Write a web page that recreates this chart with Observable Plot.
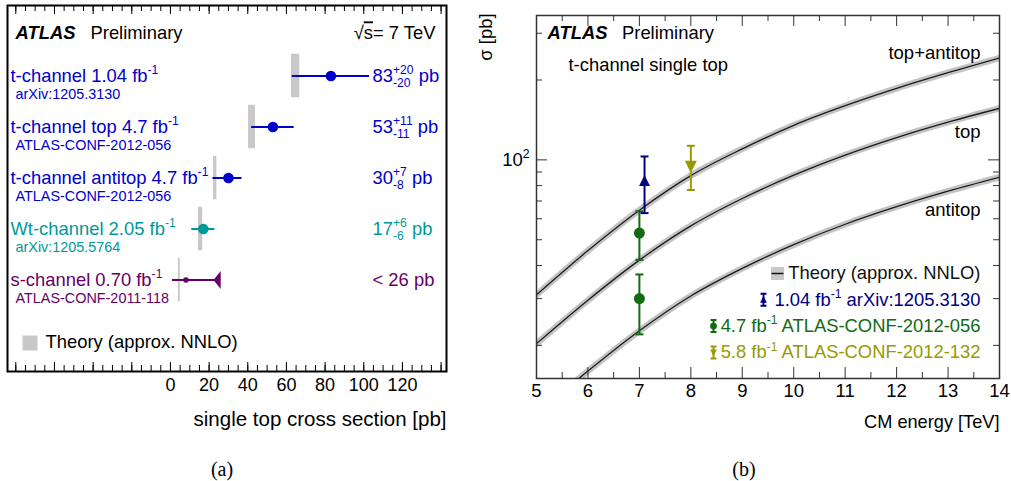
<!DOCTYPE html>
<html>
<head>
<meta charset="utf-8">
<script src="https://cdn.jsdelivr.net/npm/d3@7"></script>
<script src="https://cdn.jsdelivr.net/npm/@observablehq/plot@0.6"></script>
<style>
  body { margin: 0; background: #fff; font-family: "Liberation Sans", Arial, sans-serif; }
  #wrap { position: relative; width: 1011px; height: 481px; overflow: hidden; }
  #pa { position: absolute; left: 0; top: 0; }
  #pb { position: absolute; left: 470px; top: 0; }
  .cap { position: absolute; top: 456px; width: 60px; text-align: center; font-family: "Liberation Serif", "Times New Roman", serif; font-size: 20px; line-height: 26px; color: #000; }
  svg text { white-space: pre; }
</style>
</head>
<body>
<div id="wrap">
  <div id="pa"></div>
  <div id="pb"></div>
  <div class="cap" style="left:192px">(a)</div>
  <div class="cap" style="left:714px">(b)</div>
</div>
<script>
// ================= Panel (a) data =================
const rowLabels = ["t-channel 1.04 fb^{-1}", "t-channel top 4.7 fb^{-1}", "t-channel antitop 4.7 fb^{-1}", "Wt-channel 2.05 fb^{-1}", "s-channel 0.70 fb^{-1}"];
const rowRefs = ["arXiv:1205.3130", "ATLAS-CONF-2012-056", "ATLAS-CONF-2012-056", "arXiv:1205.5764", "ATLAS-CONF-2011-118"];
const rowValue = [83, 53, 30, 17, 8];
const rowLow = [63, 42, 22, 11, 1];
const rowHigh = [103, 64, 37, 23, 26];
const rowIsLimit = [false, false, false, false, true];
const rowResult = ["83^{+20}_{-20} pb", "53^{+11}_{-11} pb", "30^{+7}_{-8} pb", "17^{+6}_{-6} pb", "< 26 pb"];
const theoryLow = [62.6, 40.4, 22.3, 14.5, 4.1];
const theoryHigh = [66.9, 44.0, 24.0, 16.7, 5.1];
const axisATicks = [0, 20, 40, 60, 80, 100, 120];

// ================= Panel (b) data =================
const energy = [5, 6, 7, 8, 9, 10, 11, 12, 13, 14];
const sigmaTotal = [31.0, 45.5, 64.6, 87.2, 110, 135, 160, 186, 213, 242];
const sigmaTop = [20.3, 29.6, 41.9, 56.4, 71.5, 87.6, 104.3, 121.4, 138.8, 156.4];
const sigmaAntitop = [11.0, 16.0, 22.7, 30.7, 39.0, 47.9, 57.2, 66.6, 76.2, 86.0];
const curveLabels = ["top+antitop", "top", "antitop"];
const measEnergy = [7.1, 7.0, 7.0, 8.0];
const measValue = [83, 53, 30, 95];
const measLow = [63, 42, 22, 77];
const measHigh = [103, 64, 37, 113];
const measDataset = [0, 1, 1, 2];
const datasetLabels = ["1.04 fb^{-1} arXiv:1205.3130", "4.7 fb^{-1} ATLAS-CONF-2012-056", "5.8 fb^{-1} ATLAS-CONF-2012-132"];
const theoryLabel = "Theory (approx. NNLO)";
const axisBXTicks = [5, 6, 7, 8, 9, 10, 11, 12, 13, 14];
const axisBYTicks = [100];

// ================= styles =================
const rowColor = ["#0000cc", "#0000cc", "#0000cc", "#009999", "#660066"];
const datasetColor = ["#000080", "#116b11", "#999900"];
const bandGray = "#c8c8c8";
const FONT = "'Liberation Sans', Arial, Helvetica, sans-serif";

// custom symbols (size = area -> r)
const rOf = size => Math.sqrt(size / Math.PI);
const symTriUp = {draw(c, s) { const r = rOf(s); c.moveTo(0, -1.15 * r); c.lineTo(r, 0.85 * r); c.lineTo(-r, 0.85 * r); c.closePath(); }};
const symTriDown = {draw(c, s) { const r = rOf(s); c.moveTo(0, 1.15 * r); c.lineTo(r, -0.85 * r); c.lineTo(-r, -0.85 * r); c.closePath(); }};
const symLimit = {draw(c, s) { const r = rOf(s); c.moveTo(0, -1.5 * r); c.lineTo(0, 1.5 * r); c.lineTo(-1.2 * r, 0); c.closePath(); }};
const symCap = {draw(c, s) { const r = rOf(s); c.moveTo(-r, 0); c.lineTo(r, 0); }};
const symErr = {draw(c, s) { const r = rOf(s); c.moveTo(0, -r); c.lineTo(0, r); c.moveTo(-0.5 * r, -r); c.lineTo(0.5 * r, -r); c.moveTo(-0.5 * r, r); c.lineTo(0.5 * r, r); }};
const symSquare = {draw(c, s) { const r = rOf(s); c.rect(-r, -r, 2 * r, 2 * r); }};
const datasetSymbol = [symTriUp, "circle", symTriDown];

// ================= rich text (super/subscripts) =================
function richify(root) {
  const NS = "http://www.w3.org/2000/svg";
  root.querySelectorAll("text").forEach(el => {
    const s = el.textContent;
    if (!/(\^\{|_\{|#o\{)/.test(s)) return;
    const fs = parseFloat(getComputedStyle(el).fontSize) || 16;
    const parts = s.split(/(\^\{[^}]*\}|_\{[^}]*\}|#o\{[^}]*\})/).filter(p => p !== "");
    el.textContent = "";
    let shift = 0, supW = 0, prevSup = false, pendingDx = 0;
    for (const p of parts) {
      const t = document.createElementNS(NS, "tspan");
      let target = 0, small = false, dx = 0, kind = "n";
      if (p.startsWith("^{")) { kind = "sup"; target = -0.42 * fs; small = true; t.textContent = p.slice(2, -1); }
      else if (p.startsWith("_{")) { kind = "sub"; target = 0.3 * fs; small = true; t.textContent = p.slice(2, -1); if (prevSup) dx = -supW; }
      else if (p.startsWith("#o{")) { t.textContent = p.slice(3, -1); t.setAttribute("text-decoration", "overline"); }
      else { t.textContent = p; dx = pendingDx; pendingDx = 0; }
      if (small) t.setAttribute("font-size", (0.66 * fs).toFixed(2));
      const dy = target - shift;
      if (dy) t.setAttribute("dy", dy.toFixed(2));
      if (dx) t.setAttribute("dx", dx.toFixed(2));
      shift = target;
      el.appendChild(t);
      if (kind === "sup") { supW = t.getComputedTextLength(); prevSup = true; }
      else {
        if (kind === "sub" && prevSup) { const w = t.getComputedTextLength(); if (w < supW) pendingDx = supW - w; }
        prevSup = false;
      }
    }
  });
}

// ================= Panel (a) =================
const rows = rowLabels.map((label, i) => ({
  label, ref: rowRefs[i], value: rowValue[i], lo: rowLow[i], hi: rowHigh[i],
  limit: rowIsLimit[i], result: rowResult[i], thLo: theoryLow[i], thHi: theoryHigh[i], color: rowColor[i]
}));
const WA = 470, HA = 440, FA = {top: 5, bottom: 371, left: 7, right: 446};
const fhA = FA.bottom - FA.top;
const minorA = d3.range(-80, 141, 5), majorA = d3.range(-80, 141, 20);

const plotA = Plot.plot({
  width: WA, height: HA,
  marginTop: FA.top, marginBottom: HA - FA.bottom, marginLeft: FA.left, marginRight: WA - FA.right,
  style: {fontFamily: FONT, fontSize: "18px", background: "transparent", overflow: "visible"},
  x: {domain: [-84.3, 142.8]},
  y: {type: "band", domain: rowLabels, range: [48.25, 305.75], padding: 0, axis: null},
  marks: [
    Plot.barX(rows, {y: "label", x1: "thLo", x2: "thHi", fill: bandGray, insetTop: 3.75, insetBottom: 3.75}),
    Plot.ruleY(rows, {y: "label", x1: "lo", x2: "hi", stroke: d => d.color, strokeWidth: 2}),
    Plot.dot(rows.filter(d => !d.limit), {x: "value", y: "label", r: 5.3, fill: d => d.color, stroke: "none"}),
    Plot.dot(rows.filter(d => d.limit), {x: "value", y: "label", r: 2.8, fill: d => d.color, stroke: "none"}),
    Plot.dot(rows.filter(d => d.limit), {x: "hi", y: "label", r: 6, symbol: symLimit, fill: d => d.color, stroke: "none"}),
    Plot.text(rows, {y: "label", text: "label", frameAnchor: "left", dx: 3, textAnchor: "start", lineAnchor: "middle", fill: d => d.color, fontSize: 18.4}),
    Plot.text(rows, {y: "label", text: "ref", frameAnchor: "left", dx: 8, dy: 18, textAnchor: "start", lineAnchor: "middle", fill: d => d.color, fontSize: 14.4}),
    Plot.text(rows, {y: "label", text: "result", frameAnchor: "right", dx: -74, textAnchor: "start", lineAnchor: "middle", fill: d => d.color, fontSize: 18.4}),
    // inner ticks
    Plot.tickX(minorA, {x: d => d, insetBottom: fhA - 6, stroke: "#000"}),
    Plot.tickX(majorA, {x: d => d, insetBottom: fhA - 9, stroke: "#000"}),
    Plot.tickX(minorA, {x: d => d, insetTop: fhA - 6, stroke: "#000"}),
    Plot.tickX(majorA, {x: d => d, insetTop: fhA - 9, stroke: "#000"}),
    Plot.frame({stroke: "#000", strokeWidth: 2}),
    Plot.axisX({ticks: axisATicks, anchor: "bottom", tickSize: 0, tickPadding: 7, fontSize: 18, label: null, tickFormat: d => String(d)}),
    // header
    Plot.text(["ATLAS"], {text: d => d, frameAnchor: "top-left", dx: 8, dy: 28, textAnchor: "start", lineAnchor: "middle", fontSize: 18.4, fontWeight: "bold", fontStyle: "italic", fill: "#000"}),
    Plot.text(["Preliminary"], {text: d => d, frameAnchor: "top-left", dx: 83, dy: 28, textAnchor: "start", lineAnchor: "middle", fontSize: 18.4, fill: "#000"}),
    Plot.text(["√#o{s}= 7 TeV"], {text: d => d, frameAnchor: "top-right", dx: -11, dy: 28, textAnchor: "end", lineAnchor: "middle", fontSize: 18.4, fill: "#000"}),
    // legend
    Plot.dot([theoryLabel], {frameAnchor: "top-left", dx: 22.5, dy: 337.5, r: 7.5, symbol: symSquare, fill: bandGray, stroke: "none"}),
    Plot.text([theoryLabel], {text: d => d, frameAnchor: "top-left", dx: 38, dy: 337, textAnchor: "start", lineAnchor: "middle", fontSize: 18.4, fill: "#000"}),
    // axis title
    Plot.text(["single top cross section [pb]"], {text: d => d, frameAnchor: "bottom-right", dy: 48, textAnchor: "end", lineAnchor: "middle", fontSize: 20.5, fill: "#000"})
  ]
});
document.getElementById("pa").append(plotA);
richify(plotA);

// ================= Panel (b) =================
const theory = energy.map((E, i) => ({E, total: sigmaTotal[i], top: sigmaTop[i], anti: sigmaAntitop[i]}));
const meas = measEnergy.map((E, i) => ({E, value: measValue[i], lo: measLow[i], hi: measHigh[i], set: measDataset[i], color: datasetColor[measDataset[i]]}));
const WB = 541, HB = 440, FB = {top: 15, bottom: 378, left: 66, right: 529};
const fhB = FB.bottom - FB.top, fwB = FB.right - FB.left;
const xMinorB = d3.range(5.5, 14, 1), yMinorB = [20, 30, 40, 50, 60, 70, 80, 90, 200, 300];
const curveKeys = ["total", "top", "anti"];
const curveLabelDy = [38, 117, 195];
const legendDy0 = 258, legendStep = 26.3;

const marksB = [];
curveKeys.forEach(k => {
  marksB.push(Plot.line(theory, {x: "E", y: k, curve: "monotone-x", stroke: "#c4c4c4", strokeWidth: 6.5, clip: true}));
  marksB.push(Plot.line(theory, {x: "E", y: k, curve: "monotone-x", stroke: "#1a1a1a", strokeWidth: 1.3, clip: true}));
});
curveLabels.forEach((lab, i) => {
  marksB.push(Plot.text([lab], {text: d => d, frameAnchor: "top-right", dx: -19, dy: curveLabelDy[i], textAnchor: "end", lineAnchor: "middle", fontSize: 18.5, fill: "#000"}));
});
marksB.push(
  Plot.ruleX(meas, {x: "E", y1: "lo", y2: "hi", stroke: d => d.color, strokeWidth: 2}),
  Plot.dot(meas, {x: "E", y: "hi", r: 4, symbol: symCap, stroke: d => d.color, strokeWidth: 2, fill: "none"}),
  Plot.dot(meas, {x: "E", y: "lo", r: 4, symbol: symCap, stroke: d => d.color, strokeWidth: 2, fill: "none"}),
  Plot.dot(meas.filter(d => d.set === 0), {x: "E", y: "value", r: 5.5, symbol: symTriUp, fill: d => d.color, stroke: "none"}),
  Plot.dot(meas.filter(d => d.set === 1), {x: "E", y: "value", r: 5.5, symbol: "circle", fill: d => d.color, stroke: "none"}),
  Plot.dot(meas.filter(d => d.set === 2), {x: "E", y: "value", r: 6, symbol: symTriDown, fill: d => d.color, stroke: "none"}),
  // inner ticks
  Plot.tickX(xMinorB, {x: d => d, insetBottom: fhB - 6, stroke: "#333"}),
  Plot.tickX(axisBXTicks, {x: d => d, insetBottom: fhB - 11, stroke: "#333"}),
  Plot.tickX(xMinorB, {x: d => d, insetTop: fhB - 6, stroke: "#333"}),
  Plot.tickX(axisBXTicks, {x: d => d, insetTop: fhB - 11, stroke: "#333"}),
  Plot.tickY(yMinorB, {y: d => d, insetRight: fwB - 6, stroke: "#333"}),
  Plot.tickY(axisBYTicks, {y: d => d, insetRight: fwB - 11, stroke: "#333"}),
  Plot.tickY(yMinorB, {y: d => d, insetLeft: fwB - 6, stroke: "#333"}),
  Plot.tickY(axisBYTicks, {y: d => d, insetLeft: fwB - 11, stroke: "#333"}),
  Plot.frame({stroke: "#333", strokeWidth: 1.5}),
  Plot.axisX({ticks: axisBXTicks, anchor: "bottom", tickSize: 0, tickPadding: 5, fontSize: 18.5, label: null, tickFormat: d => String(d)}),
  Plot.axisY({ticks: axisBYTicks, anchor: "left", tickSize: 0, tickPadding: 7, fontSize: 18.5, label: null, tickFormat: () => "10^{2}"}),
  // header
  Plot.text(["ATLAS"], {text: d => d, frameAnchor: "top-left", dx: 11, dy: 18, textAnchor: "start", lineAnchor: "middle", fontSize: 18.4, fontWeight: "bold", fontStyle: "italic", fill: "#000"}),
  Plot.text(["Preliminary"], {text: d => d, frameAnchor: "top-left", dx: 85.5, dy: 18, textAnchor: "start", lineAnchor: "middle", fontSize: 18.4, fill: "#000"}),
  Plot.text(["t-channel single top"], {text: d => d, frameAnchor: "top-left", dx: 32, dy: 50, textAnchor: "start", lineAnchor: "middle", fontSize: 18.4, fill: "#000"}),
  // axis titles
  Plot.text(["CM energy [TeV]"], {text: d => d, frameAnchor: "bottom-right", dy: 44, textAnchor: "end", lineAnchor: "middle", fontSize: 18.2, fill: "#000"}),
  Plot.text(["σ [pb]"], {text: d => d, frameAnchor: "top-left", dx: -50, dy: -2, rotate: -90, textAnchor: "end", lineAnchor: "middle", fontSize: 18.4, fill: "#000"}),
  // legend
  Plot.dot([theoryLabel], {frameAnchor: "top-right", dx: -222, dy: legendDy0, r: 6.5, symbol: symSquare, fill: bandGray, stroke: "none"}),
  Plot.dot([theoryLabel], {frameAnchor: "top-right", dx: -222, dy: legendDy0, r: 6, symbol: symCap, fill: "none", stroke: "#111", strokeWidth: 1.5}),
  Plot.text([theoryLabel], {text: d => d, frameAnchor: "top-right", dx: -19, dy: legendDy0, textAnchor: "end", lineAnchor: "middle", fontSize: 18.4, fill: "#111"})
);
const legendSymDx = [-236, -286, -286];
datasetLabels.forEach((lab, i) => {
  const dy = legendDy0 + (i + 1) * legendStep;
  marksB.push(
    Plot.dot([lab], {frameAnchor: "top-right", dx: legendSymDx[i], dy, r: 6, symbol: symErr, fill: "none", stroke: datasetColor[i], strokeWidth: 2}),
    Plot.dot([lab], {frameAnchor: "top-right", dx: legendSymDx[i], dy, r: 3.4, symbol: datasetSymbol[i], fill: datasetColor[i], stroke: "none"}),
    Plot.text([lab], {text: d => d, frameAnchor: "top-right", dx: -19, dy, textAnchor: "end", lineAnchor: "middle", fontSize: 18.4, fill: datasetColor[i]})
  );
});

const plotB = Plot.plot({
  width: WB, height: HB,
  marginTop: FB.top, marginBottom: HB - FB.bottom, marginLeft: FB.left, marginRight: WB - FB.right,
  style: {fontFamily: FONT, fontSize: "18px", background: "transparent", overflow: "visible"},
  x: {domain: [5, 14]},
  y: {type: "log", domain: [15, 350]},
  marks: marksB
});
document.getElementById("pb").append(plotB);
richify(plotB);
</script>
</body>
</html>
